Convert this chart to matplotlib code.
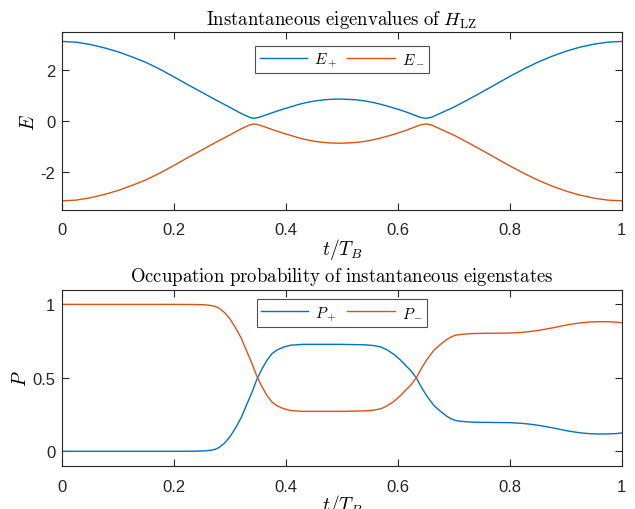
import numpy as np
import matplotlib
matplotlib.use("Agg")
import matplotlib.pyplot as plt

plt.rcParams['font.family'] = ['Liberation Sans', 'DejaVu Sans']
plt.rcParams['mathtext.fontset'] = 'cm'

# instantaneous eigenvalues
t_E = [0, 0.025, 0.05, 0.075, 0.1, 0.125, 0.15, 0.175, 0.2, 0.225, 0.25, 0.275,
       0.3, 0.32, 0.335, 0.343, 0.352, 0.365, 0.378, 0.393, 0.408, 0.423, 0.438,
       0.453, 0.468, 0.48, 0.495, 0.51, 0.525, 0.54, 0.555, 0.57, 0.585, 0.6,
       0.615, 0.628, 0.64, 0.65, 0.66, 0.675, 0.7, 0.725,
       0.75, 0.775, 0.8, 0.825, 0.85, 0.875, 0.9, 0.925, 0.95, 0.975, 1.0]
E_plus = [3.14, 3.11, 3.02, 2.89, 2.73, 2.53, 2.31, 2.04, 1.74, 1.43, 1.13, 0.83,
          0.54, 0.30, 0.15, 0.11, 0.15, 0.25, 0.35, 0.46, 0.56, 0.66, 0.74,
          0.80, 0.84, 0.86, 0.87, 0.86, 0.84, 0.80, 0.74, 0.66, 0.57, 0.47,
          0.36, 0.25, 0.15, 0.11, 0.15, 0.30, 0.55, 0.84,
          1.14, 1.45, 1.76, 2.05, 2.32, 2.55, 2.75, 2.91, 3.03, 3.11, 3.14]
E_minus = [-3.14, -3.11, -3.02, -2.89, -2.73, -2.53, -2.31, -2.04, -1.74, -1.43, -1.13, -0.83,
           -0.54, -0.30, -0.15, -0.11, -0.15, -0.25, -0.35, -0.46, -0.56, -0.66, -0.74,
           -0.80, -0.84, -0.86, -0.87, -0.86, -0.84, -0.80, -0.74, -0.66, -0.57, -0.47,
           -0.36, -0.25, -0.15, -0.11, -0.15, -0.30, -0.55, -0.84,
           -1.14, -1.45, -1.76, -2.05, -2.32, -2.55, -2.75, -2.91, -3.03, -3.11, -3.14]

# occupation probabilities
t_P = [0, 0.1, 0.2, 0.24, 0.255, 0.265, 0.273, 0.28, 0.29, 0.30, 0.31, 0.32, 0.33, 0.34,
       0.348, 0.357, 0.366, 0.375, 0.384, 0.396, 0.408, 0.43, 0.5, 0.54,
       0.557, 0.57, 0.581, 0.593, 0.605, 0.615, 0.623, 0.633, 0.643, 0.653,
       0.665, 0.677, 0.687, 0.695, 0.703, 0.713, 0.73, 0.75, 0.80, 0.82, 0.838, 0.853,
       0.868, 0.883, 0.898, 0.913, 0.928, 0.943, 0.958, 0.97, 0.982, 0.991, 1.0]
P_plus = [0, 0, 0, 0.001, 0.003, 0.007, 0.013, 0.025, 0.055, 0.10, 0.16, 0.23, 0.32, 0.41,
          0.49, 0.56, 0.62, 0.665, 0.69, 0.71, 0.722, 0.728, 0.728, 0.725,
          0.72, 0.71, 0.69, 0.66, 0.62, 0.58, 0.55, 0.50, 0.43, 0.37,
          0.31, 0.27, 0.24, 0.222, 0.21, 0.204, 0.199, 0.197, 0.195, 0.191, 0.184, 0.176,
          0.166, 0.155, 0.143, 0.133, 0.125, 0.12, 0.118, 0.118, 0.119, 0.121, 0.125]
P_minus = [1, 1, 1, 0.999, 0.997, 0.993, 0.987, 0.975, 0.945, 0.90, 0.84, 0.77, 0.68, 0.59,
           0.51, 0.44, 0.38, 0.335, 0.31, 0.29, 0.278, 0.272, 0.272, 0.275,
           0.28, 0.29, 0.31, 0.34, 0.38, 0.42, 0.45, 0.50, 0.57, 0.63,
           0.69, 0.73, 0.76, 0.778, 0.79, 0.796, 0.801, 0.803, 0.805, 0.809, 0.816, 0.824,
           0.834, 0.845, 0.857, 0.867, 0.875, 0.88, 0.882, 0.882, 0.881, 0.879, 0.875]

blue = '#0072BD'
orange = '#D95319'

fig = plt.figure(figsize=(6.35, 5.1), dpi=100)
ax1 = fig.add_axes([0.0981, 0.5863, 0.8807, 0.3484])
ax2 = fig.add_axes([0.0981, 0.0843, 0.8807, 0.3457])


def style(ax):
    for s in ax.spines.values():
        s.set_color('#262626')
        s.set_linewidth(0.8)
    ax.tick_params(direction='in', length=5, width=0.8, top=True, right=True,
                   labelsize=12, colors='#262626')
    ax.tick_params(axis='x', pad=9)
    ax.tick_params(axis='y', pad=5)
    ax.set_xlim(0, 1)
    ax.set_xticks([0, 0.2, 0.4, 0.6, 0.8, 1])
    ax.set_xticklabels(['0', '0.2', '0.4', '0.6', '0.8', '1'])
    ax.set_xlabel(r'$t/T_B$', fontsize=14, labelpad=-1)


ax1.plot(t_E, E_plus, color=blue, lw=1.0, label=r'$E_+$')
ax1.plot(t_E, E_minus, color=orange, lw=1.0, label=r'$E_-$')
style(ax1)
ax1.set_ylim(-3.5, 3.5)
ax1.set_yticks([-2, 0, 2])
ax1.set_yticklabels(['-2', '0', '2'])
ax1.set_ylabel(r'$E$', fontsize=14, labelpad=2)
ax1.set_title(r'$\mathrm{Instantaneous\ eigenvalues\ of\ }H_{\mathrm{LZ}}$',
              fontsize=13.5, pad=6)
leg1 = ax1.legend(loc='upper center', ncol=2, fontsize=11, frameon=True,
                  fancybox=False, edgecolor='#262626', handlelength=3.1,
                  borderpad=0.3, columnspacing=0.7, handletextpad=0.45,
                  borderaxespad=0, bbox_to_anchor=(0.5, 0.925))
leg1.get_frame().set_linewidth(0.8)

ax2.plot(t_P, P_plus, color=blue, lw=1.0, label=r'$P_+$')
ax2.plot(t_P, P_minus, color=orange, lw=1.0, label=r'$P_-$')
style(ax2)
ax2.set_ylim(-0.1, 1.1)
ax2.set_yticks([0, 0.5, 1])
ax2.set_yticklabels(['0', '0.5', '1'])
ax2.set_ylabel(r'$P$', fontsize=14, labelpad=2)
ax2.set_title(r'$\mathrm{Occupation\ probability\ of\ instantaneous\ eigenstates}$',
              fontsize=13.5, pad=6)
leg2 = ax2.legend(loc='upper center', ncol=2, fontsize=11, frameon=True,
                  fancybox=False, edgecolor='#262626', handlelength=3.1,
                  borderpad=0.3, columnspacing=0.7, handletextpad=0.45,
                  borderaxespad=0, bbox_to_anchor=(0.5, 0.945))
leg2.get_frame().set_linewidth(0.8)

fig.savefig('out.png', dpi=100)
